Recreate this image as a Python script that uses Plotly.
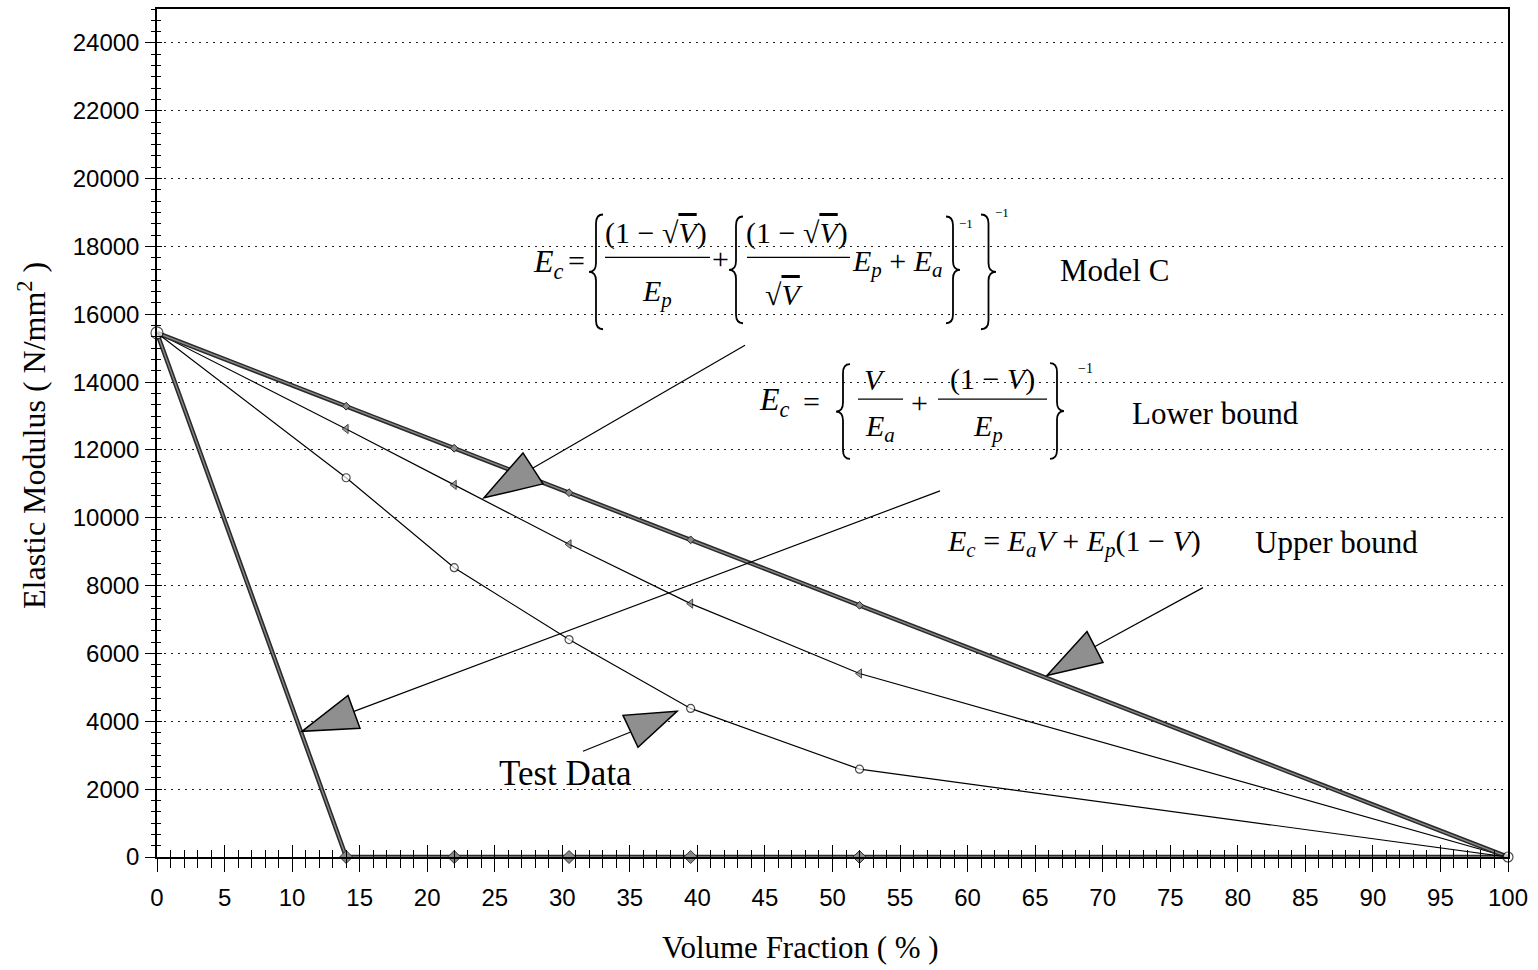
import plotly.graph_objects as go

# ---------------- data ----------------
volume_fraction = [0, 14, 22, 30.5, 39.5, 52, 100]
upper_bound = [15450, 13290, 12050, 10740, 9350, 7420, 0]
model_c = [15450, 12620, 10970, 9220, 7470, 5410, 0]
lower_bound = [15450, 11180, 8530, 6410, 4380, 2590, 0]
test_data = [15450, 0, 0, 0, 0, 0, 0]

x_ticks = list(range(0, 101, 5))
y_ticks = list(range(0, 24001, 2000))
x_labels = [str(v) for v in x_ticks]
y_labels = [str(v) for v in y_ticks]

# ---------------- layout helpers (pixel -> paper) ----------------
W, H = 1538, 970
L, R, T, B = 157, 30, 7, 113
PW = W - L - R
PH = H - T - B
SERIF = "Liberation Serif"
SANS = "Liberation Sans"


def px(x):
    return (x - L) / PW


def py(y):
    return (H - B - y) / PH


def pt(x, y):
    return f"{px(x):.5f},{py(y):.5f}"


annotations = []
shapes = []


def txt(x, y, text, size, xanchor="center", yanchor="middle", angle=0):
    annotations.append(dict(x=px(x), y=py(y), xref="paper", yref="paper", text=text,
                            showarrow=False, xanchor=xanchor, yanchor=yanchor,
                            textangle=angle,
                            font=dict(family=SERIF, size=size, color="black")))


def seg(x0, y0, x1, y1, w=1.2):
    shapes.append(dict(type="line", xref="paper", yref="paper",
                       x0=px(x0), y0=py(y0), x1=px(x1), y1=py(y1),
                       line=dict(color="black", width=w)))


def brace(xl, xr, top, bot, left=True, w=1.8):
    mid = (top + bot) / 2
    xm = (xl + xr) / 2
    r = min(9, (bot - top) / 8)
    if left:
        e, p = xr, xl
    else:
        e, p = xl, xr
    path = (f"M{pt(e, top)} Q{pt(xm, top)} {pt(xm, top + r)} L{pt(xm, mid - r)} "
            f"Q{pt(xm, mid)} {pt(p, mid)} Q{pt(xm, mid)} {pt(xm, mid + r)} "
            f"L{pt(xm, bot - r)} Q{pt(xm, bot)} {pt(e, bot)}")
    shapes.append(dict(type="path", xref="paper", yref="paper", path=path,
                       line=dict(color="black", width=w)))


def head(p1, p2, p3):
    path = f"M{pt(*p1)} L{pt(*p2)} L{pt(*p3)} Z"
    shapes.append(dict(type="path", xref="paper", yref="paper", path=path,
                       fillcolor="#8f8f8f", line=dict(color="black", width=1.5)))


OV = "<span style='text-decoration:overline'><i>V</i></span>"

# ---------------- Model C formula ----------------
txt(531, 262, "<i>E<sub>c</sub></i>", 32, xanchor="left")
txt(576, 259, "=", 30)
brace(589, 603, 213, 328, left=True)
txt(656, 232, "(1 − √" + OV + ")", 30)
seg(605, 256, 710, 256, 1.3)
txt(657, 292, "<i>E<sub>p</sub></i>", 30)
txt(720, 257, "+", 30)
brace(729, 743, 215, 322, left=True)
txt(797, 232, "(1 − √" + OV + ")", 30)
seg(747, 256, 850, 256, 1.3)
txt(784, 293, "√" + OV, 30)
txt(897, 262, "<i>E<sub>p</sub></i> + <i>E<sub>a</sub></i>", 30)
brace(946, 960, 215, 322, left=False)
txt(966, 222, "−1", 13)
brace(981, 996, 213, 328, left=False)
txt(1002, 211, "−1", 13)
txt(1058, 269, "Model C", 31, xanchor="left")

# ---------------- Lower bound formula ----------------
txt(757, 400, "<i>E<sub>c</sub></i>", 32, xanchor="left")
txt(811, 400, "=", 30)
brace(836, 850, 363, 458, left=True)
txt(875, 378, "<i>V</i>", 30)
seg(858, 398, 903, 398, 1.3)
txt(880, 427, "<i>E<sub>a</sub></i>", 30)
txt(919, 401, "+", 30)
txt(992, 378, "(1 − <i>V</i>)", 30)
seg(938, 398, 1047, 398, 1.3)
txt(988, 427, "<i>E<sub>p</sub></i>", 30)
brace(1050, 1064, 362, 458, left=False)
txt(1085, 367, "−1", 14)
txt(1130, 412, "Lower bound", 31, xanchor="left")

# ---------------- Upper bound formula ----------------
txt(945, 542, "<i>E<sub>c</sub></i> = <i>E<sub>a</sub>V</i> + <i>E<sub>p</sub></i>(1 − <i>V</i>)", 30,
    xanchor="left")
txt(1253, 542, "Upper bound", 31, xanchor="left")

# ---------------- Test data label ----------------
txt(497, 773, "Test Data", 35, xanchor="left")

# ---------------- arrows ----------------
seg(745, 344, 533, 467)
head((484, 497), (523, 452), (543, 483))
seg(940, 490, 354, 711)
head((302, 731), (348, 695), (360, 728))
seg(1203, 587, 1095, 646)
head((1047, 675), (1087, 631), (1103, 662))
seg(583, 751, 630, 732)
head((677, 711), (623, 715), (638, 747))

# ---------------- axis titles ----------------
txt(32, 435, "Elastic Modulus ( N/mm<sup>2</sup> )", 32, angle=-90)
txt(800, 948, "Volume Fraction ( % )", 31)

# ---------------- traces ----------------
fig = go.Figure()

fig.add_trace(go.Scatter(
    x=volume_fraction, y=model_c, mode="lines+markers",
    line=dict(color="black", width=1.2),
    marker=dict(symbol="triangle-left", size=[0, 8, 8, 8, 8, 8, 0], color="#777",
                line=dict(color="black", width=1)),
    showlegend=False, hoverinfo="skip"))

for col, wid in (("#2a2a2a", 4.5), ("#8a8a8a", 1.4)):
    fig.add_trace(go.Scatter(
        x=volume_fraction, y=upper_bound, mode="lines",
        line=dict(color=col, width=wid), showlegend=False, hoverinfo="skip"))
fig.add_trace(go.Scatter(
    x=volume_fraction[1:-1], y=upper_bound[1:-1], mode="markers",
    marker=dict(symbol="diamond", size=6, color="#888", line=dict(color="#222", width=1)),
    showlegend=False, hoverinfo="skip"))

for col, wid in (("#2a2a2a", 4.5), ("#8a8a8a", 1.4)):
    fig.add_trace(go.Scatter(
        x=volume_fraction, y=test_data, mode="lines", cliponaxis=False,
        line=dict(color=col, width=wid), showlegend=False, hoverinfo="skip"))
fig.add_trace(go.Scatter(
    x=volume_fraction[1:-1], y=test_data[1:-1], mode="markers", cliponaxis=False,
    marker=dict(symbol="diamond", size=10, color="#888", line=dict(color="#333", width=1)),
    showlegend=False, hoverinfo="skip"))

fig.add_trace(go.Scatter(
    x=volume_fraction, y=lower_bound, mode="lines+markers", cliponaxis=False,
    line=dict(color="black", width=1.2),
    marker=dict(symbol="circle", size=[12, 8, 8, 8, 8, 8, 10], color="white",
                line=dict(color="black", width=1.2)),
    showlegend=False, hoverinfo="skip"))

# dummy trace so overlay axes (for crossing ticks) are drawn
fig.add_trace(go.Scatter(x=[50], y=[0], xaxis="x2", yaxis="y2", mode="markers",
                         marker=dict(opacity=0), showlegend=False, hoverinfo="skip"))

tickfont = dict(family=SANS, size=24, color="black")

fig.update_layout(
    width=W, height=H, autosize=False,
    margin=dict(l=L, r=R, t=T, b=B),
    paper_bgcolor="white", plot_bgcolor="white",
    showlegend=False,
    annotations=annotations, shapes=shapes,
    xaxis=dict(range=[0, 100], tickmode="array", tickvals=x_ticks, ticktext=x_labels,
               ticks="outside", ticklen=13, tickwidth=1.4, tickcolor="black",
               showline=True, linecolor="black", linewidth=1.5, mirror=True,
               showgrid=False, zeroline=False, tickfont=tickfont,
               ticklabelstandoff=5,
               minor=dict(tickmode="linear", tick0=0, dtick=1, ticks="outside",
                          ticklen=9, tickwidth=1.2, tickcolor="black", showgrid=False)),
    yaxis=dict(range=[0, 25000], tickmode="array", tickvals=y_ticks, ticktext=y_labels,
               ticks="outside", ticklen=10, tickwidth=1.4, tickcolor="black",
               showline=True, linecolor="black", linewidth=1.5, mirror=True,
               showgrid=True, gridcolor="#222", gridwidth=1, griddash="2px,5px",
               zeroline=False, tickfont=tickfont, ticklabelstandoff=1,
               minor=dict(tickmode="linear", tick0=0, dtick=2000 / 6, ticks="outside",
                          ticklen=4, tickwidth=1.2, tickcolor="black", showgrid=False)),
    xaxis2=dict(range=[0, 100], overlaying="x", anchor="y2", side="bottom",
                tickmode="array", tickvals=x_ticks, ticks="inside", ticklen=12,
                tickwidth=1.4, tickcolor="black", showticklabels=False,
                showline=False, showgrid=False, zeroline=False,
                minor=dict(tickmode="linear", tick0=0, dtick=1, ticks="inside",
                           ticklen=7, tickwidth=1.2, tickcolor="black", showgrid=False)),
    yaxis2=dict(range=[0, 25000], overlaying="y", anchor="x2", side="left",
                tickmode="array", tickvals=y_ticks, ticks="inside", ticklen=5,
                tickwidth=1.4, tickcolor="black", showticklabels=False,
                showline=False, showgrid=False, zeroline=False,
                minor=dict(tickmode="linear", tick0=0, dtick=2000 / 6, ticks="inside",
                           ticklen=4, tickwidth=1.2, tickcolor="black", showgrid=False)),
)

fig.write_html("out.html")
